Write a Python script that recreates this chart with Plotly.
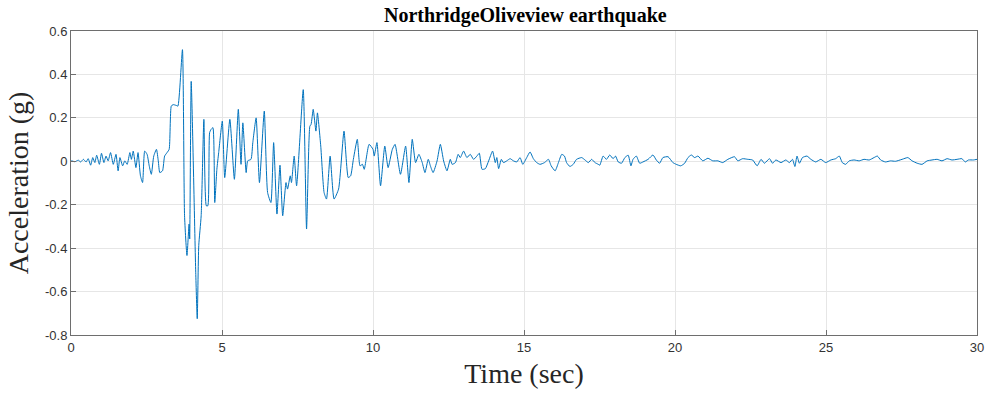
import plotly.graph_objects as go

# Time (sec) and acceleration (g)
t_sec = [0.0, 0.02, 0.13, 0.24, 0.32, 0.41, 0.50, 0.57, 0.65, 0.72, 0.79, 0.85, 0.94, 1.01, 1.09, 1.16, 1.23, 1.31, 1.40, 1.49, 1.56, 1.62, 1.71, 1.78, 1.86, 1.95, 2.00, 2.06, 2.15, 2.22, 2.30, 2.37, 2.44, 2.52, 2.59, 2.66, 2.74, 2.83, 2.89, 2.94, 3.03, 3.10, 3.18, 3.25,
         3.32, 3.38, 3.49, 3.54, 3.69, 3.76, 3.84, 3.91, 3.93, 3.98, 4.13, 4.18, 4.23, 4.31, 4.40, 4.48, 4.53, 4.59, 4.64, 4.70, 4.76, 4.83, 4.89, 5.01, 5.09, 5.26,
         5.41, 5.54, 5.63, 5.69, 5.80, 5.85, 5.96, 6.02, 6.13, 6.24, 6.40, 6.51, 6.62, 6.71, 6.82, 6.92, 7.01, 7.12, 7.17, 7.26, 7.30, 7.39, 7.47, 7.69,
         7.80, 7.91, 7.95, 8.02, 8.11, 8.16, 8.27, 8.38, 8.46, 8.58, 8.71, 8.86, 9.04, 9.18, 9.26, 9.35, 9.48, 9.57, 9.65, 9.71, 9.87, 10.00, 10.04, 10.13,
         10.25, 10.39, 10.50, 10.64, 10.73, 10.91, 11.08, 11.19, 11.30, 11.41, 11.52, 11.63, 11.72, 11.83, 11.90, 11.99, 12.12, 12.23, 12.34, 12.45, 12.56, 12.62, 12.73, 12.82, 12.89, 13.00,
         13.11, 13.22, 13.33, 13.44, 13.52, 13.61, 13.72, 13.83, 13.96, 14.05, 14.10, 14.16, 14.25, 14.32, 14.43, 14.54, 14.65, 14.76, 14.87, 14.96, 15.09, 15.20, 15.31, 15.42, 15.53, 15.68, 15.81, 15.90, 16.03, 16.14, 16.25, 16.34, 16.41, 16.52, 16.63, 16.74, 16.91, 17.02, 17.13, 17.24, 17.35, 17.46,
         17.51, 17.62, 17.73, 17.84, 17.95, 18.03, 18.12, 18.23, 18.34, 18.45, 18.54, 18.61, 18.72, 18.83, 18.94, 19.11, 19.27, 19.38, 19.49, 19.60, 19.77, 19.93, 20.04, 20.19, 20.32, 20.43, 20.54, 20.65, 20.76, 20.92, 21.09, 21.25, 21.42, 21.58, 21.75, 21.97, 22.08, 22.24, 22.41, 22.57, 22.72, 22.85, 22.96, 23.13, 23.23, 23.34, 23.51,
         23.67, 23.79, 23.89, 23.97, 24.04, 24.12, 24.22, 24.37, 24.50, 24.66, 24.83, 24.99, 25.16, 25.32, 25.44, 25.54, 25.65, 25.77, 25.93, 26.10, 26.26, 26.43, 26.59, 26.70, 26.81, 26.97, 27.14, 27.30, 27.52, 27.71, 27.85, 28.02, 28.18, 28.35, 28.51, 28.68, 28.84, 29.01, 29.17, 29.34, 29.50, 29.61, 29.72, 29.88, 30.0]

accel_g = [0.0, 0.002, -0.002, 0.005, -0.003, 0.009, -0.003, 0.012, -0.018, 0.017, -0.006, 0.028, -0.014, 0.037, -0.006, 0.024, 0.002, 0.040, -0.014, 0.032, -0.044, 0.017, -0.021, 0.002, -0.014, 0.040, 0.009, 0.047, -0.029, 0.040, -0.067, -0.098, 0.047, 0.032, -0.021, -0.060, 0.024, 0.055, 0.002, -0.052, -0.044, 0.024, 0.040, 0.055,
           0.254, 0.261, 0.257, 0.254, 0.514, -0.251, -0.434, -0.289, -0.358, 0.368, -0.511, -0.725, -0.388, -0.251, 0.193, -0.205, -0.205, 0.132, 0.147, 0.155, -0.190, -0.037, 0.040, 0.185, -0.075, 0.193,
           -0.083, 0.239, -0.014, 0.177, -0.052, 0.002, 0.009, 0.086, 0.200, -0.098, 0.231, -0.144, -0.190, 0.086, -0.243, -0.018, -0.251, -0.098, -0.128, -0.067, -0.098, 0.024, -0.113, 0.330,
           -0.312, 0.162, 0.170, 0.239, 0.139, 0.223, 0.070, -0.144, -0.174, 0.024, -0.174, -0.128, 0.139, -0.075, -0.067, 0.009, 0.101, -0.021, -0.014, -0.037, 0.078, 0.055, 0.024, 0.086,
           -0.113, 0.070, -0.029, 0.055, 0.078, -0.060, 0.070, -0.098, 0.101, -0.006, 0.032, -0.006, -0.052, 0.009, -0.021, -0.052, 0.001, 0.078, 0.001, -0.044, 0.009, -0.014, -0.006, 0.032, 0.017, 0.047,
           0.017, 0.032, 0.009, 0.024, 0.037, -0.037, -0.034, 0.002, 0.047, -0.006, 0.017, -0.034, 0.009, -0.006, 0.002, 0.012, 0.002, -0.003, 0.017, -0.014, 0.017, 0.043, 0.012, -0.006, -0.014, -0.006, 0.009, -0.021, -0.044, -0.006, 0.032, 0.024, -0.006, -0.024, -0.014, 0.009, 0.017, 0.006, -0.006, 0.009, -0.006, -0.014,
           -0.018, 0.024, 0.009, 0.029, 0.012, 0.024, -0.003, -0.009, 0.017, 0.028, -0.021, 0.009, 0.024, -0.009, -0.003, 0.009, 0.029, 0.006, -0.009, 0.017, 0.021, -0.006, -0.014, -0.021, -0.009, 0.017, 0.029, 0.017, 0.024, 0.002, 0.014, 0.002, 0.002, -0.006, 0.009, 0.021, 0.002, 0.012, 0.009, 0.006, -0.021, 0.009, -0.009, 0.012, -0.009, 0.006, -0.006,
           0.006, -0.006, 0.009, -0.024, 0.024, -0.009, 0.017, 0.024, 0.009, -0.003, 0.009, -0.006, 0.006, 0.012, 0.024, -0.006, -0.014, 0.002, 0.006, 0.002, 0.009, 0.006, 0.017, 0.024, 0.006, -0.003, 0.002, 0.0, 0.009, 0.017, 0.002, -0.009, -0.014, 0.002, 0.006, 0.009, 0.002, 0.012, 0.006, 0.009, 0.012, -0.003, 0.006, 0.006, 0.009]

x_ticks = [0, 5, 10, 15, 20, 25, 30]
x_tick_labels = ["0", "5", "10", "15", "20", "25", "30"]
y_ticks = [0.6, 0.4, 0.2, 0, -0.2, -0.4, -0.6, -0.8]
y_tick_labels = ["0.6", "0.4", "0.2", "0", "-0.2", "-0.4", "-0.6", "-0.8"]

fig = go.Figure()
fig.add_trace(go.Scatter(x=t_sec, y=accel_g, mode="lines",
                         line=dict(color="#0072BD", width=1, shape="spline", smoothing=0.5),
                         showlegend=False))

axis_common = dict(showline=True, mirror=True, linecolor="#6e6e6e", linewidth=1,
                   ticks="inside", ticklen=5, tickcolor="#6e6e6e",
                   showgrid=True, gridcolor="#E6E6E6", gridwidth=1, zeroline=False,
                   tickfont=dict(family="Liberation Sans, Arial", size=13, color="#333333"))

fig.update_xaxes(range=[0, 30], tickvals=x_ticks, ticktext=x_tick_labels,
                 title=dict(text="Time (sec)", font=dict(family="Liberation Serif, Times New Roman", size=28, color="#262626"), standoff=9),
                 **axis_common)
fig.update_yaxes(range=[-0.8, 0.6], tickvals=y_ticks, ticktext=y_tick_labels,
                 title=dict(text="Acceleration (g)", font=dict(family="Liberation Serif, Times New Roman", size=28, color="#262626"), standoff=8),
                 **axis_common)

fig.update_layout(
    width=995, height=395,
    margin=dict(l=71, r=11, t=31, b=60),
    paper_bgcolor="white", plot_bgcolor="white",
    title=dict(text="<b>NorthridgeOliveview earthquake</b>", x=0.528, xanchor="center", y=0.963, yanchor="middle",
               font=dict(family="Liberation Serif, Times New Roman", size=20, color="black")),
)

fig.write_html("out.html")
